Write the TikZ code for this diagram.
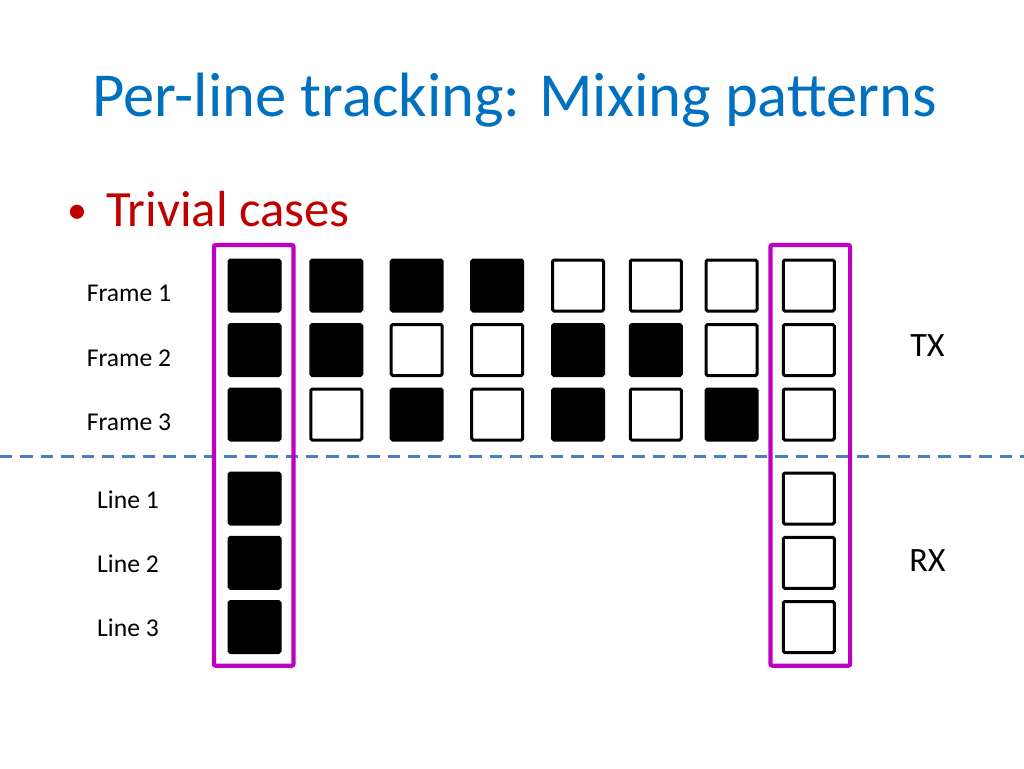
\documentclass[tikz,border=0pt]{standalone}
\usepackage{fontspec}
\setmainfont{Carlito}
\definecolor{titleblue}{HTML}{0070C0}
\definecolor{bulletred}{HTML}{C00000}
\definecolor{boxmag}{HTML}{C000C0}
\definecolor{dashblue}{HTML}{4A7EBB}
\tikzset{
  cell/.style={draw=black, line width=3pt, minimum size=51pt, inner sep=0pt, rounded corners=1.5pt, fill=white},
  on/.style={cell, fill=black},
  off/.style={cell},
  lab/.style={inner sep=0pt, anchor=base, font=\fontsize{25.6}{30}\selectfont},
  side/.style={inner sep=0pt, anchor=base, font=\fontsize{34.1}{40}\selectfont},
  grp/.style={draw=boxmag, line width=4.2pt, rounded corners=2pt},
  sep/.style={draw=dashblue, line width=3pt, dash pattern=on 12.3pt off 8.1pt}
}
\begin{document}
\begin{tikzpicture}[x=1pt,y=-1pt]
\useasboundingbox (0,0) rectangle (1024,768);
% title
\node[inner sep=0pt, anchor=base west, text=titleblue, font=\fontsize{62.6}{75}\selectfont] (title) at (92,116.7) {Per-line tracking: Mixing patterns};
% bullet
\node[inner sep=0pt, anchor=base west, text=bulletred, font=\fontsize{40}{48}\selectfont] (bul) at (67,223.5) {•};
\node[inner sep=0pt, anchor=base west, text=bulletred, font=\fontsize{50.8}{60}\selectfont] (trivial) at (106.2,226.7) {Trivial cases};
% separator
\coordinate (sepL) at (0,456.7);
\coordinate (sepR) at (1024,456.7);
\draw[sep] (sepL) -- (sepR);
% TX grid
\def\colx{{254.5,336.3,416.7,497.2,578,655.8,731.5,808.8}}
\foreach \st [count=\i from 1] in {on,on,on,on,off,off,off,off}
  \node[\st] (a\i) at ({\colx[\i-1]},285.5) {};
\foreach \st [count=\i from 1] in {on,on,off,off,on,on,off,off}
  \node[\st] (b\i) at ({\colx[\i-1]},350) {};
\foreach \st [count=\i from 1] in {on,off,on,off,on,off,on,off}
  \node[\st] (c\i) at ({\colx[\i-1]},414.5) {};
% RX
\node[on] (l1a) at (254.5,498.5) {};
\node[on] (l2a) at (254.5,562.8) {};
\node[on] (l3a) at (254.5,627) {};
\node[off] (l1b) at (808.8,498.5) {};
\node[off] (l2b) at (808.8,562.8) {};
\node[off] (l3b) at (808.8,627) {};
% group boxes
\draw[grp] (213.9,244.9) rectangle (293.5,665.8);
\draw[grp] (770.5,244.9) rectangle (850.1,665.8);
% labels
\node[lab] (f1) at (129,301.7) {Frame 1};
\node[lab] (f2) at (129,366.2) {Frame 2};
\node[lab] (f3) at (129,430.5) {Frame 3};
\node[lab] (ln1) at (128,508.3) {Line 1};
\node[lab] (ln2) at (128,572.5) {Line 2};
\node[lab] (ln3) at (128,636.5) {Line 3};
\node[side] (tx) at (927.5,356.7) {TX};
\node[side] (rx) at (927.5,571.7) {RX};
\end{tikzpicture}
\end{document}
